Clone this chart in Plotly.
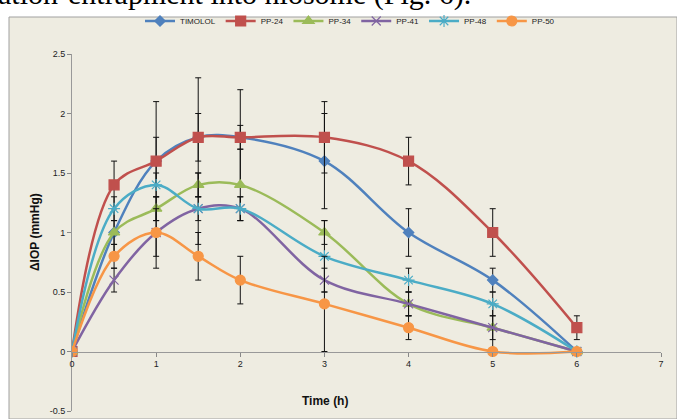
import plotly.graph_objects as go

time_h = [0, 0.5, 1, 1.5, 2, 3, 4, 5, 6]

series_names = ["TIMOLOL", "PP-24", "PP-34", "PP-41", "PP-48", "PP-50"]

timolol = [0, 1.0, 1.6, 1.8, 1.8, 1.6, 1.0, 0.6, 0]
pp24 = [0, 1.4, 1.6, 1.8, 1.8, 1.8, 1.6, 1.0, 0.2]
pp34 = [0, 1.0, 1.2, 1.4, 1.4, 1.0, 0.4, 0.2, 0]
pp41 = [0, 0.6, 1.0, 1.2, 1.2, 0.6, 0.4, 0.2, 0]
pp48 = [0, 1.2, 1.4, 1.2, 1.2, 0.8, 0.6, 0.4, 0]
pp50 = [0, 0.8, 1.0, 0.8, 0.6, 0.4, 0.2, 0, 0]

err_timolol = [0, 0.2, 0.2, 0.2, 0.1, 0.4, 0.2, 0.1, 0]
err_pp24 = [0, 0.2, 0.5, 0.5, 0.4, 0.3, 0.2, 0.2, 0.1]
err_pp34 = [0, 0.1, 0.1, 0.1, 0.3, 0.1, 0.1, 0.2, 0]
err_pp41 = [0, 0.1, 0.2, 0.1, 0.1, 0.1, 0.1, 0.1, 0]
err_pp48 = [0, 0.1, 0.1, 0.3, 0.1, 0.3, 0.1, 0.1, 0]
err_pp50 = [0, 0.1, 0.3, 0.2, 0.2, 0.4, 0.1, 0, 0]

x_ticks = [0, 1, 2, 3, 4, 5, 6, 7]
y_ticks = [-0.5, 0, 0.5, 1, 1.5, 2, 2.5]
y_tick_labels = ["-0.5", "0", "0.5", "1", "1.5", "2", "2.5"]

values = [timolol, pp24, pp34, pp41, pp48, pp50]
errors = [err_timolol, err_pp24, err_pp34, err_pp41, err_pp48, err_pp50]
colors = ["#4F81BD", "#C0504D", "#9BBB59", "#8064A2", "#4BACC6", "#F79646"]
symbols = ["diamond", "square", "triangle-up", "x-thin", "asterisk", "circle"]
sizes = [8, 10, 10, 9, 10, 10]

W, H = 677, 419
ml, mr, mt, mb = 72, 16, 54, 8
pw, ph = W - ml - mr, H - mt - mb


def px_x(p):
    return (p - ml) / pw


def px_y(p):
    return (H - mb - p) / ph


fig = go.Figure()
for name, v, e, c, s, sz in zip(series_names, values, errors, colors, symbols, sizes):
    fig.add_trace(go.Scatter(
        x=time_h, y=v, name=name, mode="lines+markers",
        line=dict(color=c, width=2.5, shape="spline", smoothing=1.0),
        marker=dict(symbol=s, size=sz, color=c, line=dict(color=c, width=1.2)),
        error_y=dict(type="data", array=e, visible=True, color="#111111",
                     thickness=1, width=3),
    ))

fig.update_layout(
    width=W, height=H,
    margin=dict(l=ml, r=mr, t=mt, b=mb, autoexpand=False),
    paper_bgcolor="white",
    plot_bgcolor="rgba(0,0,0,0)",
    font=dict(family="Liberation Sans Narrow, Liberation Sans, Arial", size=9, color="#222222"),
    showlegend=True,
    legend=dict(orientation="h", x=px_x(350), xanchor="center", y=px_y(21), yanchor="middle",
                font=dict(size=8, color="#222222"), bgcolor="rgba(0,0,0,0)",
                itemwidth=30, tracegroupgap=0),
    xaxis=dict(range=[0, 7], tickvals=x_ticks, ticks="outside", ticklen=4,
               tickcolor="#888888", showline=True, linecolor="#999999", linewidth=1,
               showgrid=False, zeroline=False, anchor="free", position=1 / 6,
               tickfont=dict(size=9, color="#222222")),
    yaxis=dict(range=[-0.5, 2.5], tickvals=y_ticks, ticktext=y_tick_labels,
               ticks="outside", ticklen=4, tickcolor="#888888", showline=True,
               linecolor="#999999", linewidth=1, showgrid=False, zeroline=False,
               tickfont=dict(size=9, color="#222222")),
    shapes=[dict(type="rect", xref="paper", yref="paper",
                 x0=px_x(9), x1=px_x(677), y0=px_y(419), y1=px_y(17),
                 fillcolor="#EEECE1", line=dict(color="#A0A0A0", width=1),
                 layer="below")],
    annotations=[
        dict(text="<b>Time (h)</b>", xref="paper", yref="paper", x=px_x(325), y=px_y(401),
             xanchor="center", yanchor="middle", showarrow=False,
             font=dict(family="Liberation Sans, Arial", size=12, color="#111111")),
        dict(text="<b>ΔIOP (mmHg)</b>", xref="paper", yref="paper", x=px_x(35), y=px_y(232),
             xanchor="center", yanchor="middle", showarrow=False, textangle=-90,
             font=dict(family="Liberation Sans, Arial", size=12, color="#111111")),
        dict(text="ation-entrapment into niosome (Fig. 6).", xref="paper", yref="paper",
             x=px_x(-4), y=px_y(13), xanchor="left", yanchor="bottom", showarrow=False,
             font=dict(family="Liberation Serif, DejaVu Serif, serif", size=30, color="#000000")),
    ],
)

fig.write_html("out.html", config={"displayModeBar": False},
               post_script="document.body.style.margin='0';document.body.style.overflow='hidden';")
